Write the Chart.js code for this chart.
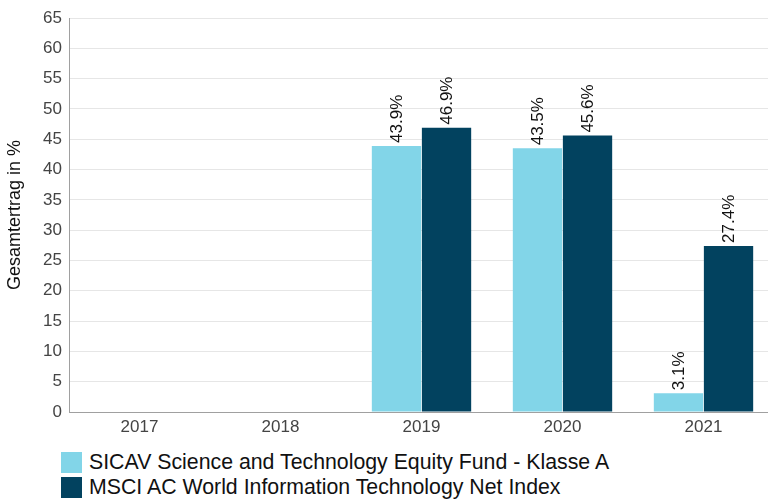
<!DOCTYPE html>
<html>
<head>
<meta charset="utf-8">
<script src="https://cdn.jsdelivr.net/npm/chart.js@4/dist/chart.umd.min.js"></script>
<style>
  html, body { margin: 0; padding: 0; background: #fff; overflow: hidden; width: 768px; height: 501px; }
  #wrap { position: absolute; left: 0; top: 0; width: 774px; height: 442px; }
  #legend { position: absolute; left: 61px; top: 450px; font-family: "Liberation Sans", Arial, sans-serif; font-size: 21.3px; color: #111; }
  .item { display: flex; align-items: center; height: 25px; white-space: nowrap; }
  .box { width: 21px; height: 21px; margin-right: 7px; flex: none; }
</style>
</head>
<body>
<div id="wrap"><canvas id="c" width="774" height="442"></canvas></div>
<div id="legend"></div>
<script>
const categories = ["2017", "2018", "2019", "2020", "2021"];
const seriesNames = ["SICAV Science and Technology Equity Fund - Klasse A", "MSCI AC World Information Technology Net Index"];
const fundValues = [null, null, 43.9, 43.5, 3.1];
const indexValues = [null, null, 46.9, 45.6, 27.4];
const colors = ["#82d5e8", "#02425f"];

const font = "Liberation Sans, Arial, sans-serif";

const labelPlugin = {
  id: 'vlabels',
  afterDatasetsDraw(chart) {
    const ctx = chart.ctx;
    chart.data.datasets.forEach((ds, di) => {
      const meta = chart.getDatasetMeta(di);
      meta.data.forEach((bar, i) => {
        const v = ds.data[i];
        if (v === null || v === undefined) return;
        ctx.save();
        ctx.translate(bar.x + 1, bar.y - 3);
        ctx.rotate(-Math.PI / 2);
        ctx.font = "17px " + font;
        ctx.fillStyle = "#111";
        ctx.textAlign = "left";
        ctx.textBaseline = "middle";
        ctx.fillText(v.toFixed(1) + "%", 0, 0);
        ctx.restore();
      });
    });
  }
};

new Chart(document.getElementById('c'), {
  type: 'bar',
  data: {
    labels: categories,
    datasets: [
      { label: seriesNames[0], data: fundValues, backgroundColor: colors[0], borderWidth: 0, categoryPercentage: 0.71, barPercentage: 0.985 },
      { label: seriesNames[1], data: indexValues, backgroundColor: colors[1], borderWidth: 0, categoryPercentage: 0.71, barPercentage: 0.985 }
    ]
  },
  options: {
    responsive: false,
    animation: false,
    layout: { padding: { top: 18, right: 0, left: 0, bottom: 0 } },
    plugins: { legend: { display: false }, tooltip: { enabled: false } },
    scales: {
      x: {
        grid: { display: false, drawTicks: false },
        border: { color: '#a0a0a0', width: 1 },
        ticks: { color: '#444', font: { family: font, size: 17 }, padding: 5 },
        afterFit(s) { s.height = 30; }
      },
      y: {
        min: 0, max: 65,
        grid: { color: '#e6e6e6', drawTicks: false },
        border: { color: '#a0a0a0', width: 1 },
        ticks: { stepSize: 5, color: '#444', font: { family: font, size: 17 }, padding: 7 },
        title: { display: true, text: 'Gesamtertrag in %', color: '#111', font: { family: font, size: 18 }, padding: { top: 4, bottom: 0 } },
        afterFit(s) { s.width = 69; }
      }
    }
  },
  plugins: [labelPlugin]
});

const lg = document.getElementById('legend');
seriesNames.forEach((n, i) => {
  const d = document.createElement('div');
  d.className = 'item';
  const b = document.createElement('span');
  b.className = 'box';
  b.style.background = colors[i];
  const t = document.createElement('span');
  t.textContent = n;
  d.appendChild(b); d.appendChild(t);
  lg.appendChild(d);
});
</script>
</body>
</html>
